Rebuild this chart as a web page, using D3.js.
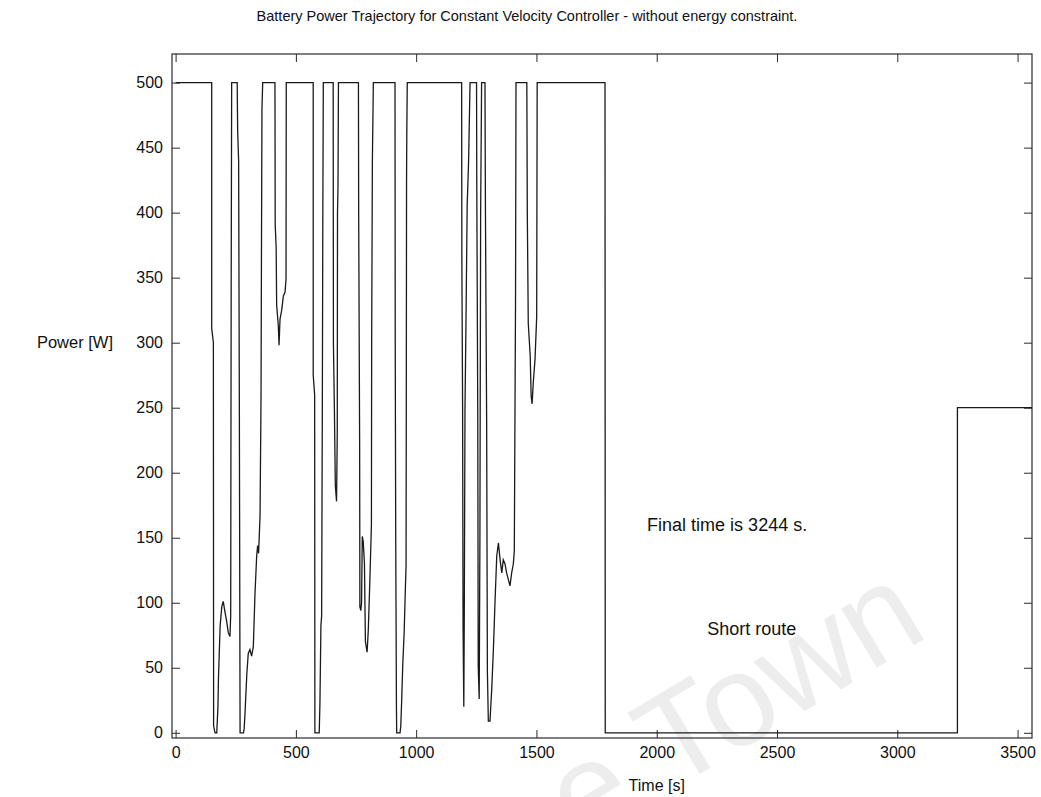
<!DOCTYPE html>
<html>
<head>
<meta charset="utf-8">
<script src="https://cdn.jsdelivr.net/npm/d3@7"></script>
<style>
  html, body { margin: 0; padding: 0; background: #fff; }
  svg { display: block; }
  text { font-family: "Liberation Sans", Arial, sans-serif; fill: #111; }
</style>
</head>
<body>
<svg id="chart" width="1041" height="797"></svg>
<script>
// ---- Data ----
const timeS = [
  0,150,150,157,158,164,171,176,178,185,192,198,206,212,219,226,229,230,231,233,
  256,258,262,265,268,282,285,289,296,302,309,316,323,330,337,341,345,351,355,357,359,362,
  413,414,418,420,427,430,434,441,448,455,459,460,
  572,572,578,579,597,600,604,607,610,612,614,
  655,656,660,664,669,672,673,675,677,
  760,761,765,766,770,773,776,780,785,789,796,801,808,814,815,818,822,
  912,913,915,918,919,933,936,940,944,950,955,958,959,960,961,963,
  1189,1190,1193,1195,1198,1200,1203,1207,1212,1218,1224,
  1251,1252,1256,1258,1262,1265,1268,1272,
  1286,1288,1293,1296,1300,1307,1310,1314,1321,1328,1335,1342,1349,1356,1362,1369,1376,1383,1390,1397,1404,1408,1411,1413,1415,
  1460,1462,1466,1474,1478,1482,1487,1494,1501,1503,
  1785,1786,3250,3250,3560
];
const powerW = [
  500,500,311,300,5,0,0,20,41,82,97,101,92,86,77,74,90,218,342,500,
  500,462,440,250,0,0,3,17,45,61,64,59,66,107,136,144,138,167,256,375,480,500,
  500,391,373,329,313,298,318,325,336,339,349,500,
  500,275,260,0,0,23,82,90,256,400,500,
  500,300,250,190,178,230,400,420,500,
  500,400,223,97,94,100,151,147,130,70,62,79,120,160,300,440,500,
  500,300,151,20,0,0,5,26,51,77,110,128,256,423,460,500,
  500,361,250,80,20,90,250,315,405,440,500,
  500,420,250,51,26,150,400,500,
  500,400,240,48,9,9,20,33,64,102,136,146,133,123,133,130,123,118,113,123,130,140,256,330,500,
  500,400,315,290,259,253,270,287,320,500,
  500,0,0,250,250
];
const xTicks = [0, 500, 1000, 1500, 2000, 2500, 3000, 3500];
const yTicks = [0, 50, 100, 150, 200, 250, 300, 350, 400, 450, 500];
const titleText = "Battery Power Trajectory for Constant Velocity Controller - without energy constraint.";
const xLabel = "Time [s]";
const yLabel = "Power [W]";
const noteTime = [1960, 2210];
const notePower = [160, 80];
const noteText = ["Final time is 3244  s.", "Short route"];
const watermarkText = "e Town";

// ---- Layout ----
const L = 172, R = 1032, T = 54, B = 738;
const svg = d3.select("#chart");

const x = d3.scaleLinear().domain([-15, 3560]).range([L, R]);
const y = d3.scaleLinear().domain([-4, 522]).range([B, T]);

// watermark (faint, partly cut at the bottom like the reference)
svg.append("text")
  .attr("transform", "translate(580,846) rotate(-31)")
  .attr("font-size", 130)
  .style("fill", "#ededed")
  .text(watermarkText);

const axisColor = "#2a2a2a";
const tickLen = 8;
const tickFont = 16;

const gB = svg.append("g").attr("transform", `translate(0,${B})`)
  .call(d3.axisBottom(x).tickValues(xTicks).tickSize(-tickLen).tickPadding(9).tickFormat(d3.format("d")));
const gT = svg.append("g").attr("transform", `translate(0,${T})`)
  .call(d3.axisTop(x).tickValues(xTicks).tickSize(-tickLen).tickFormat(""));
const gL = svg.append("g").attr("transform", `translate(${L},0)`)
  .call(d3.axisLeft(y).tickValues(yTicks).tickSize(-tickLen).tickPadding(9).tickFormat(d3.format("d")));
const gR = svg.append("g").attr("transform", `translate(${R},0)`)
  .call(d3.axisRight(y).tickValues(yTicks).tickSize(-tickLen).tickFormat(""));

[gB, gT, gL, gR].forEach(g => {
  g.select(".domain").remove();
  g.selectAll(".tick line").attr("stroke", axisColor).attr("stroke-width", 1);
  g.selectAll(".tick text").attr("font-size", tickFont)
    .style("font-family", "Liberation Sans, Arial, sans-serif").attr("fill", "#111");
});

// box
svg.append("rect")
  .attr("x", L).attr("y", T).attr("width", R - L).attr("height", B - T)
  .attr("fill", "none").attr("stroke", axisColor).attr("stroke-width", 1.2);

// data line
const pts = timeS.map((t, i) => [t, powerW[i]]);
const line = d3.line().x(d => x(d[0])).y(d => y(d[1]));
svg.append("path")
  .datum(pts)
  .attr("d", line)
  .attr("fill", "none")
  .attr("stroke", "#1a1a1a")
  .attr("stroke-width", 1.3)
  .attr("stroke-linejoin", "miter");

// annotations
noteText.forEach((txt, i) => {
  svg.append("text")
    .attr("x", x(noteTime[i])).attr("y", y(notePower[i]))
    .attr("dy", "0.35em")
    .attr("font-size", 18)
    .text(txt);
});

// title and labels
svg.append("text")
  .attr("x", 527).attr("y", 21)
  .attr("text-anchor", "middle")
  .attr("font-size", 14.5)
  .text(titleText);

svg.append("text")
  .attr("x", x(2000)).attr("y", 785)
  .attr("dy", "0.35em")
  .attr("text-anchor", "middle")
  .attr("font-size", 16)
  .text(xLabel);

svg.append("text")
  .attr("x", 75).attr("y", y(300))
  .attr("dy", "0.35em")
  .attr("text-anchor", "middle")
  .attr("font-size", 16.5)
  .text(yLabel);
</script>
</body>
</html>
